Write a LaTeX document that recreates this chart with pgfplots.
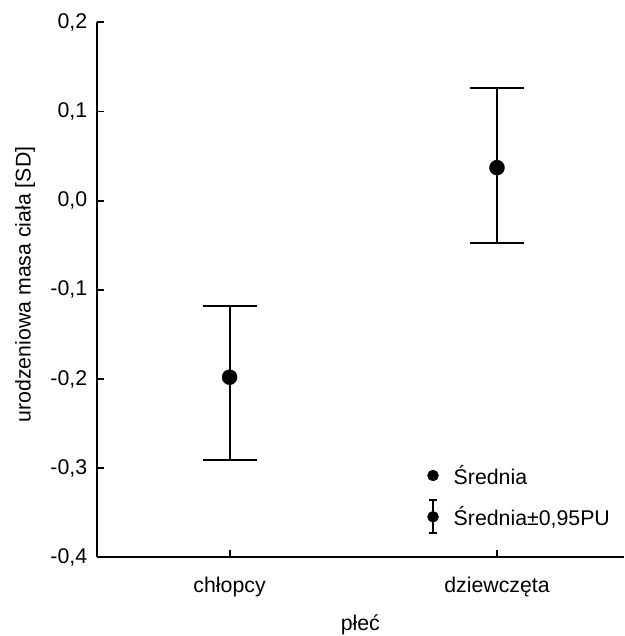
\documentclass[border=0pt]{standalone}
\usepackage{pgfplots}
\pgfplotsset{compat=1.18}
\usepackage{fontspec}
\setmainfont{Liberation Sans}
\begin{document}
\begin{tikzpicture}[font=\fontsize{21.3}{25}\selectfont]
\begin{axis}[
  scale only axis,
  width=527.3pt, height=535pt,
  xmin=-0.497, xmax=1.475,
  ymin=-0.4, ymax=0.2,
  axis x line*=bottom, axis y line*=left,
  axis line style={line width=1.9pt},
  tick style={line width=1.9pt, black},
  tick align=inside,
  major tick length=7pt,
  xtick={0,1}, xticklabels={chłopcy,dziewczęta},
  ytick={-0.4,-0.3,-0.2,-0.1,0,0.1,0.2},
  yticklabels={{-0,4},{-0,3},{-0,2},{-0,1},{0,0},{0,1},{0,2}},
  xticklabel style={yshift=-16pt},
  yticklabel style={xshift=-6pt},
  xlabel={płeć},
  xlabel style={at={(axis description cs:0.5,0)}, anchor=north, yshift=-54pt},
  ylabel={urodzeniowa masa ciała [SD]},
  ylabel style={at={(axis description cs:-0.11,0.51)}, anchor=south},
  clip=false,
  legend cell align=left,
  legend style={draw=none, fill=none, at={(axis cs:0.7275,-0.292)}, anchor=north west,
    row sep=11pt, column sep=13pt, font=\fontsize{21.3}{25}\selectfont},
]
\addplot[only marks, mark=*, mark size=7.5pt, black, forget plot,
  error bars/.cd, y dir=both, y explicit,
  error bar style={line width=1.9pt, black},
  error mark options={rotate=90, mark size=27pt, line width=1.9pt, black}]
  coordinates {
  (0,-0.198) +- (0,0.080) -= (0,0.0925)
  (1,0.037) +- (0,0.089) -= (0,0.085)
  };
\addlegendimage{legend image code/.code={\fill[black] (0pt,0pt) circle (5.5pt);}}
\addlegendentry{Średnia}
\addlegendimage{legend image code/.code={
  \draw[line width=1.9pt, black] (0pt,-16pt) -- (0pt,17pt);
  \draw[line width=1.9pt, black] (-4pt,-16pt) -- (4pt,-16pt);
  \draw[line width=1.9pt, black] (-4pt,17pt) -- (4pt,17pt);
  \fill[black] (0pt,0pt) circle (5.5pt);}}
\addlegendentry{Średnia±0,95PU}
\end{axis}
\pgfresetboundingbox
\path (-96.7pt,-78.7pt) rectangle (527.3pt,557.3pt);
\end{tikzpicture}
\end{document}
